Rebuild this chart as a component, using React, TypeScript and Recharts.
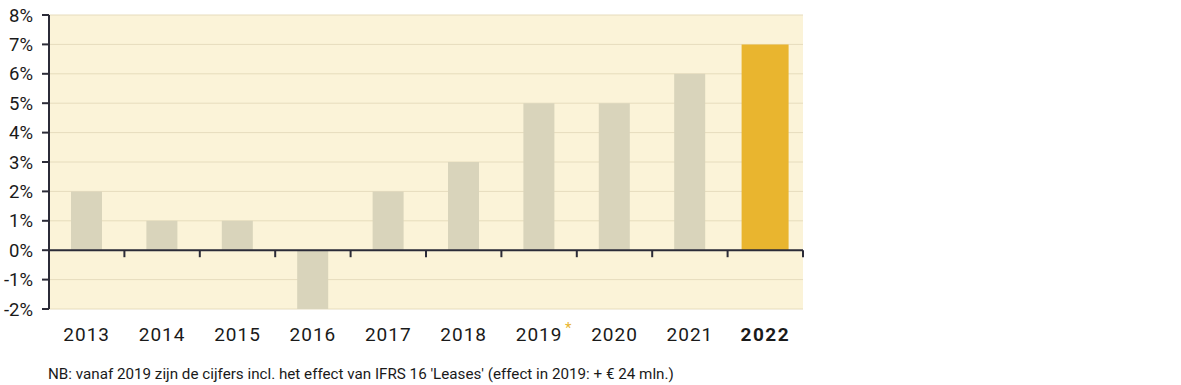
import { BarChart, Bar, XAxis, YAxis, CartesianGrid, ReferenceLine } from 'recharts';

const years = ['2013', '2014', '2015', '2016', '2017', '2018', '2019', '2020', '2021', '2022'];
const growth = [2, 1, 1, -2, 2, 3, 5, 5, 6, 7];
const yTicks = [-2, -1, 0, 1, 2, 3, 4, 5, 6, 7, 8];
const currentYear = '2022';

// past years and the current year are drawn as two series so the last bar can be wider
const data = years.map((year, i) => ({
  year,
  past: year === currentYear ? null : growth[i],
  current: year === currentYear ? growth[i] : null,
}));

const FONT = 'Roboto, "DejaVu Sans", sans-serif';
const AXIS = '#2b2b38';

// eslint-disable-next-line @typescript-eslint/no-explicit-any
const YearTick = (props: any) => {
  const { x, y, payload } = props;
  const last = payload.value === currentYear;
  const star = payload.value === '2019';
  return (
    <g>
      <text
        x={x}
        y={y + 32}
        textAnchor="middle"
        fill="#1a1a1a"
        fontFamily={FONT}
        fontSize={19}
        fontWeight={last ? 700 : 400}
        letterSpacing={last ? 1.5 : 1}
      >
        {payload.value}
      </text>
      {star && (
        <text x={x + 26} y={y + 24} fill="#e9b52f" fontFamily={FONT} fontSize={15}>
          *
        </text>
      )}
    </g>
  );
};

// eslint-disable-next-line @typescript-eslint/no-explicit-any
const ZeroAxis = (props: any) => {
  const { x1, x2, y1 } = props;
  const n = years.length;
  const step = (x2 - x1) / n;
  return (
    <g>
      <line x1={x1} x2={x2} y1={y1} y2={y1} stroke={AXIS} strokeWidth={2} />
      {years.map((_, i) => (
        <line
          key={i}
          x1={x1 + step * (i + 1)}
          x2={x1 + step * (i + 1)}
          y1={y1}
          y2={y1 + 7}
          stroke={AXIS}
          strokeWidth={2}
        />
      ))}
    </g>
  );
};

export default function App() {
  return (
    <div style={{ position: 'absolute', left: 0, top: 0, width: 1181, height: 385, background: '#fff' }}>
      <BarChart
        width={1181}
        height={385}
        data={data}
        margin={{ top: 15, right: 378, bottom: 36, left: 0 }}
        barCategoryGap={0}
      >
        <CartesianGrid vertical={false} stroke="#e6dcbd" fill="#fbf3d8" xAxisId="a" />
        <XAxis
          xAxisId="a"
          dataKey="year"
          axisLine={false}
          tickLine={false}
          tickSize={0}
          tickMargin={0}
          height={40}
          interval={0}
          tick={<YearTick />}
        />
        <XAxis xAxisId="b" dataKey="year" hide />
        <YAxis
          domain={[-2, 8]}
          ticks={yTicks}
          interval={0}
          width={49}
          axisLine={{ stroke: AXIS, strokeWidth: 2 }}
          tickLine={{ stroke: AXIS, strokeWidth: 2 }}
          tickSize={7}
          tickMargin={9}
          tickFormatter={(v: number) => `${v}%`}
          tick={{ fill: '#1a1a1a', fontFamily: FONT, fontSize: 18.5 }}
        />
        <Bar xAxisId="a" dataKey="past" barSize={31} fill="#d9d4bb" isAnimationActive={false} />
        <Bar xAxisId="b" dataKey="current" barSize={47} fill="#e9b52f" isAnimationActive={false} />
        <ReferenceLine xAxisId="a" y={0} shape={<ZeroAxis />} />
      </BarChart>
      <div
        style={{
          position: 'absolute',
          left: 48,
          top: 365,
          fontFamily: FONT,
          fontSize: 15.2,
          color: '#1a1a1a',
          whiteSpace: 'nowrap',
        }}
      >
        NB: vanaf 2019 zijn de cijfers incl. het effect van IFRS 16 'Leases' (effect in 2019: + € 24 mln.)
      </div>
    </div>
  );
}
